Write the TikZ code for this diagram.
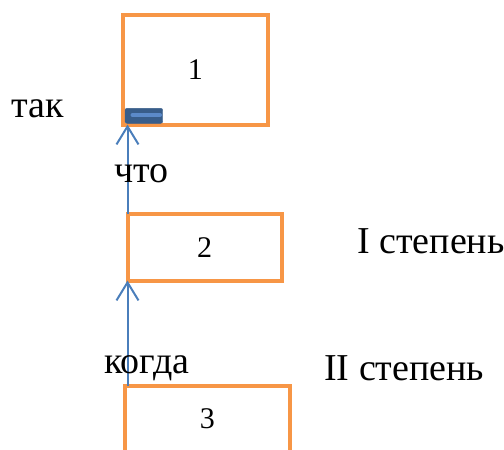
\documentclass[tikz,border=0pt]{standalone}
\usepackage{fontspec}
\setmainfont{Liberation Serif}
\usetikzlibrary{arrows.meta,positioning}
\definecolor{boxorange}{HTML}{F79646}
\definecolor{arrowblue}{HTML}{4A7EBB}
\definecolor{tagblue}{HTML}{385D8A}
\definecolor{tagline}{HTML}{5B8AC9}
\tikzset{
  degbox/.style={draw=boxorange,line width=4pt,rectangle,inner sep=0pt,outer sep=0pt,font=\fontsize{30}{32}\selectfont},
  word/.style={anchor=base west,inner sep=0pt,font=\fontsize{38}{40}\selectfont},
  link/.style={draw=arrowblue,line width=2pt,-{Straight Barb[length=18pt,width=22pt,line width=2pt]}}
}
\begin{document}
\begin{tikzpicture}[x=1pt,y=1pt]
  \clip (0,0) rectangle (504,-450);
  \node[degbox,minimum width=144.5pt,minimum height=109.5pt] (b1) at (195.25,-69.75) {1};
  \node[degbox,minimum width=154pt,minimum height=66.5pt] (b2) at (204.5,-247.25) {2};
  \node[degbox,minimum width=164.5pt,minimum height=66.5pt] (b3) at (207.25,-418.75) {3};
  % small tag on box 1
  \draw[tagblue,fill=tagblue,rounded corners=2pt] (125,-108.3) rectangle (162.7,-123.3);
  \draw[tagline,line width=4pt,line cap=round] (132.5,-115) -- (160,-115);
  \draw[link] (b2.north west) -- (b2.north west |- b1.south);
  \draw[link] (b2.south west |- b3.north) -- (b2.south west);
  \node[word] (tak) at (11,-117) {так};
  \node[word] (chto) at (114,-182) {что};
  \node[word] (deg1) at (357,-253) {I степень};
  \node[word] (kogda) at (104,-373) {когда};
  \node[word] (deg2) at (324,-380) {II степень};
\end{tikzpicture}
\end{document}
